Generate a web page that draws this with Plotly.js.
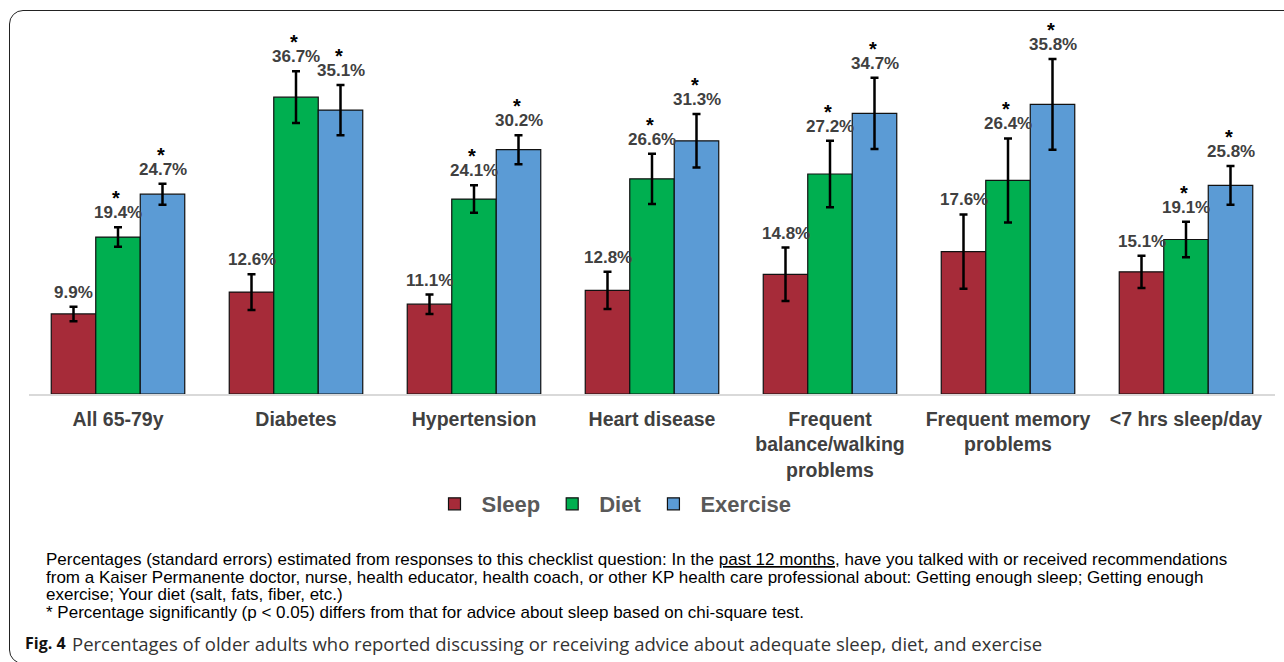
<!DOCTYPE html>
<html>
<head>
<meta charset="utf-8">
<script src="https://cdn.plot.ly/plotly-3.0.1.min.js"></script>
<style>
  html, body { margin: 0; padding: 0; background: #fff; overflow: hidden; }
  #wrap { position: relative; width: 1284px; height: 662px; }
  #chart { position: absolute; left: 0; top: 0; width: 1284px; height: 662px; }
  #frame { position: absolute; left: 9px; top: 10px; width: 1320px; height: 654px;
           border: 1.5px solid #222; border-radius: 14px; pointer-events: none; box-sizing: border-box; }
</style>
</head>
<body>
<div id="wrap">
  <div id="chart"></div>
  <div id="frame"></div>
</div>
<script>
// ---- data ----
const categories = ["All 65-79y", "Diabetes", "Hypertension", "Heart disease",
  "Frequent<br>balance/walking<br>problems", "Frequent memory<br>problems", "<7 hrs sleep/day"];
const seriesNames = ["Sleep", "Diet", "Exercise"];
const sleepVals    = [9.9, 12.6, 11.1, 12.8, 14.8, 17.6, 15.1];
const dietVals     = [19.4, 36.7, 24.1, 26.6, 27.2, 26.4, 19.1];
const exerciseVals = [24.7, 35.1, 30.2, 31.3, 34.7, 35.8, 25.8];
const sleepSE    = [0.9, 2.2, 1.2, 2.3, 3.3, 4.6, 2.0];
const dietSE     = [1.2, 3.2, 1.7, 3.1, 4.1, 5.2, 2.2];
const exerciseSE = [1.3, 3.1, 1.8, 3.3, 4.4, 5.6, 2.4];
const sleepSig    = [false, false, false, false, false, false, false];
const dietSig     = [true, true, true, true, true, true, true];
const exerciseSig = [true, true, true, true, true, true, true];
const footnoteLines = [
  "Percentages (standard errors) estimated from responses to this checklist question: In the <u>past 12 months</u>, have you talked with or received recommendations",
  "from a Kaiser Permanente doctor, nurse, health educator, health coach, or other KP health care professional about: Getting enough sleep; Getting enough",
  "exercise; Your diet (salt, fats, fiber, etc.)",
  "* Percentage significantly (p &lt; 0.05) differs from that for advice about sleep based on chi-square test."
];
const figLabel = "Fig. 4";
const figCaption = "Percentages of older adults who reported discussing or receiving advice about adequate sleep, diet, and exercise";

// ---- styling / layout ----
const colors = ["#A62B39", "#00AF50", "#5B9BD5"];
const W = 1284, H = 662;
const M = {l: 29, r: 9, t: 30, b: 268};
const plotW = W - M.l - M.r, plotH = H - M.t - M.b;
const bargap = 0.25;
const barPx = plotW / categories.length * (1 - bargap) / 3;
const px2x = p => (p - M.l) / plotW;
const px2y = p => (H - M.b - p) / plotH;

const vals = [sleepVals, dietVals, exerciseVals];
const ses = [sleepSE, dietSE, exerciseSE];
const sigs = [sleepSig, dietSig, exerciseSig];

const traces = seriesNames.map((name, i) => ({
  type: "bar",
  name: name,
  x: categories,
  y: vals[i],
  marker: {color: colors[i], line: {color: "#111", width: 1.2}},
  error_y: {type: "data", array: ses[i], visible: true, color: "#000", thickness: 2.5, width: 4},
  hoverinfo: "skip"
}));

const annotations = [];
const font = "Liberation Sans, Arial, sans-serif";
seriesNames.forEach((name, i) => {
  categories.forEach((c, j) => {
    const top = vals[i][j] + ses[i][j];
    annotations.push({
      x: c, y: top, xref: "x", yref: "y", xshift: (i - 1) * barPx, yshift: 3,
      yanchor: "bottom", showarrow: false,
      text: vals[i][j].toFixed(1) + "%",
      font: {family: font, size: 17, color: "#404040", weight: "bold"}
    });
    if (sigs[i][j]) {
      annotations.push({
        x: c, y: top, xref: "x", yref: "y", xshift: (i - 1) * barPx - 2, yshift: 16,
        yanchor: "bottom", showarrow: false, text: "*",
        font: {family: font, size: 20, color: "#000", weight: "bold"}
      });
    }
  });
});
const footY = [559, 577, 594, 612];
footnoteLines.forEach((t, k) => {
  annotations.push({
    xref: "paper", yref: "paper", x: px2x(44), y: px2y(footY[k]),
    xanchor: "left", yanchor: "middle", showarrow: false, align: "left",
    text: t, font: {family: font, size: 17, color: "#000"}
  });
});
annotations.push({
  xref: "paper", yref: "paper", x: px2x(23), y: px2y(643), xanchor: "left", yanchor: "middle",
  showarrow: false, text: "<b>" + figLabel + "</b>",
  font: {family: "Open Sans, sans-serif", size: 16, color: "#111"}
});
annotations.push({
  xref: "paper", yref: "paper", x: px2x(70), y: px2y(643), xanchor: "left", yanchor: "middle",
  showarrow: false, text: figCaption,
  font: {family: "Open Sans, sans-serif", size: 18.5, color: "#333"}
});

const layout = {
  width: W, height: H,
  margin: M,
  paper_bgcolor: "#fff", plot_bgcolor: "rgba(0,0,0,0)",
  barmode: "group", bargap: bargap, bargroupgap: 0,
  showlegend: true,
  legend: {
    orientation: "h", x: px2x(612), xanchor: "center", y: px2y(504), yanchor: "middle",
    font: {family: font, size: 22, color: "#595959", weight: "bold"},
    itemwidth: 44, traceorder: "normal", bgcolor: "rgba(0,0,0,0)"
  },
  xaxis: {
    type: "category", showline: true, linecolor: "#d9d9d9", linewidth: 1.5,
    ticks: "", showgrid: false, zeroline: false, ticklabelstandoff: 7,
    tickfont: {family: font, size: 19.5, color: "#404040", weight: "bold"},
    fixedrange: true
  },
  yaxis: {
    range: [0, 45], visible: false, showgrid: false, zeroline: false, fixedrange: true
  },
  annotations: annotations
};

Plotly.newPlot("chart", traces, layout, {displayModeBar: false, staticPlot: true});
</script>
</body>
</html>
